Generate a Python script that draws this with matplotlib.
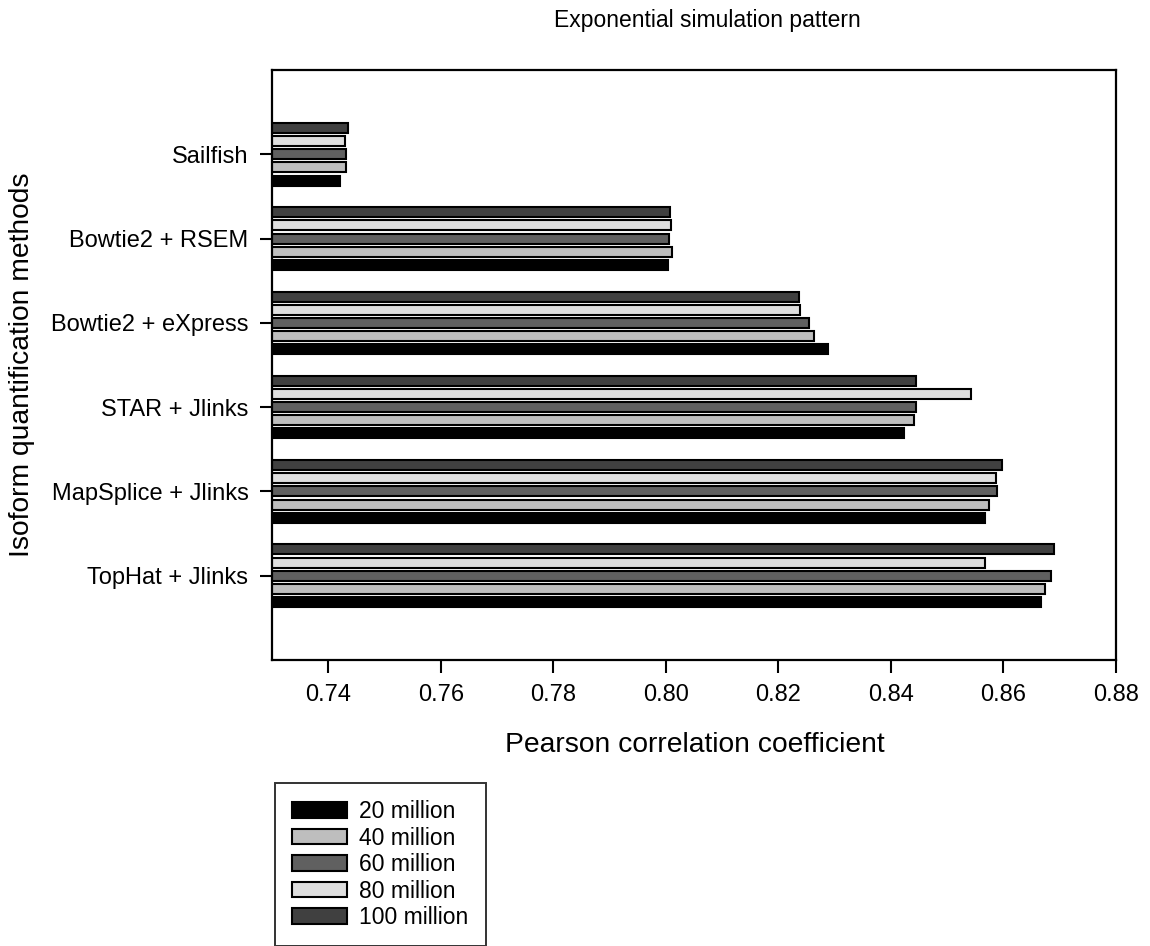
import numpy as np
import matplotlib.pyplot as plt

plt.rcParams['font.family'] = ['Liberation Sans', 'DejaVu Sans']

# methods listed bottom to top
methods = ["TopHat + Jlinks", "MapSplice + Jlinks", "STAR + Jlinks",
           "Bowtie2 + eXpress", "Bowtie2 + RSEM", "Sailfish"]
depths = ["20 million", "40 million", "60 million", "80 million", "100 million"]

r20 = [0.8666, 0.8568, 0.8424, 0.8288, 0.8004, 0.7421]
r40 = [0.8673, 0.8575, 0.8441, 0.8263, 0.8011, 0.7432]
r60 = [0.8685, 0.8588, 0.8445, 0.8254, 0.8005, 0.7432]
r80 = [0.8567, 0.8587, 0.8543, 0.8239, 0.8009, 0.7429]
r100 = [0.8689, 0.8598, 0.8445, 0.8236, 0.8007, 0.7435]

colors = ["#000000", "#bebebe", "#606060", "#dedede", "#404040"]

W, H = 1150, 946
fig = plt.figure(figsize=(W / 100, H / 100), dpi=100)
ax = fig.add_axes([272 / W, 1 - 660 / H, (1116 - 272) / W, (660 - 70) / H])

y = np.arange(len(methods))
step = 0.156
height = 0.118
bars = []
for i, (vals, col, lab) in enumerate(zip([r20, r40, r60, r80, r100], colors, depths)):
    b = ax.barh(y + (i - 2) * step, vals, height=height, color=col,
                edgecolor="black", linewidth=1.5, label=lab)
    bars.append(b)

ax.set_xlim(0.73, 0.88)
ax.set_ylim(-1, 6)
ax.set_xticks([0.74, 0.76, 0.78, 0.80, 0.82, 0.84, 0.86, 0.88])
ax.set_xticklabels(["%.2f" % t for t in ax.get_xticks()], fontsize=17)
ax.set_yticks(y)
ax.set_yticklabels(methods, fontsize=17)
ax.tick_params(axis="both", direction="out", length=9, width=1.5, pad=8)
for s in ax.spines.values():
    s.set_linewidth(1.6)

ax.set_xlabel("Pearson correlation coefficient", fontsize=20.3)
ax.xaxis.set_label_coords((695 - 272) / 844, (660 - 745) / 590)
ax.xaxis.label.set_va("center")
ax.set_ylabel("Isoform quantification methods", fontsize=20.3)
ax.yaxis.set_label_coords((22 - 272) / 844, 0.5)
ax.yaxis.label.set_va("center")
fig.text(707 / W, 1 - 20 / H, "Exponential simulation pattern", fontsize=16.5,
         ha="center", va="center")

leg = fig.legend(handles=bars, labels=depths, loc="upper left",
                 bbox_to_anchor=(275 / W, 1 - 783 / H), fontsize=16.5,
                 frameon=True, fancybox=False, edgecolor="black",
                 handlelength=2.4, handleheight=0.65, labelspacing=0.15,
                 handletextpad=0.52, borderpad=0.75, borderaxespad=0)
leg.get_frame().set_linewidth(1.4)

fig.savefig("out.png", dpi=100)
